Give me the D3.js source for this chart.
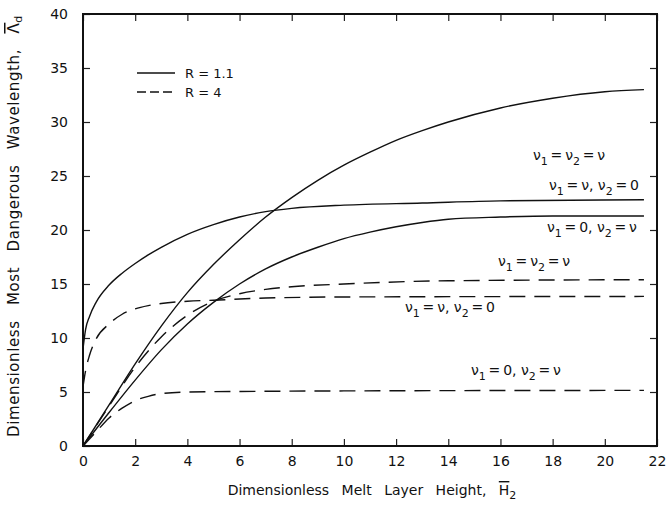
<!DOCTYPE html>
<html>
<head>
<meta charset="utf-8">
<script src="https://cdn.jsdelivr.net/npm/d3@7"></script>
<style>
  body { margin: 0; background: #fff; }
  text { font-family: "DejaVu Sans", "Liberation Sans", sans-serif; fill: #111; }
</style>
</head>
<body>
<div id="chart"></div>
<script>
// x ticks and y ticks
const xTicks = [0, 2, 4, 6, 8, 10, 12, 14, 16, 18, 20, 22];
const yTicks = [0, 5, 10, 15, 20, 25, 30, 35, 40];

// R = 1.1 (solid)
const solidBoth = [[0, 0], [1, 3.8], [2, 7.6], [3, 11.1], [4, 14.2], [5, 16.8], [6, 19.1], [7, 21.2], [8, 23.0],
  [9, 24.6], [10, 26.0], [11, 27.2], [12, 28.3], [13, 29.2], [14, 30.0], [16, 31.3], [18, 32.2], [20, 32.8], [21.5, 33.0]];
const solidNu1 = [[0, 9.0], [0.1, 10.8], [0.25, 12.0], [0.5, 13.3], [1, 14.9], [1.5, 16.0], [2, 16.9], [2.5, 17.7],
  [3, 18.4], [4, 19.6], [5, 20.5], [6, 21.2], [7, 21.7], [8, 22.0], [10, 22.3], [13, 22.5], [16, 22.7], [21.5, 22.8]];
const solidNu2 = [[0, 0], [1, 3.1], [2, 6.1], [3, 8.9], [4, 11.3], [5, 13.3], [6, 15.0], [7, 16.4], [8, 17.5],
  [9, 18.4], [10, 19.2], [11, 19.8], [12, 20.3], [13, 20.7], [14, 21.0], [16, 21.2], [18, 21.3], [21.5, 21.3]];

// R = 4 (dashed)
const dashBoth = [[0, 0], [1, 3.7], [2, 7.3], [3, 10.1], [4, 12.1], [5, 13.4], [6, 14.1], [7, 14.5], [8, 14.75],
  [10, 15.0], [14, 15.3], [21.5, 15.4]];
const dashNu1 = [[0, 5.5], [0.1, 7.0], [0.25, 8.4], [0.5, 9.9], [1, 11.3], [1.5, 12.2], [2, 12.7], [2.5, 13.0],
  [3, 13.2], [4, 13.4], [5, 13.5], [7, 13.7], [10, 13.8], [21.5, 13.85]];
const dashNu2 = [[0, 0], [0.5, 1.3], [1, 2.6], [1.5, 3.5], [2, 4.2], [2.5, 4.6], [3, 4.85], [4, 5.0], [6, 5.05],
  [10, 5.1], [21.5, 5.15]];

const width = 669, height = 522;
const margin = { top: 14, right: 12, bottom: 76, left: 83 };

const svg = d3.select("#chart").append("svg")
  .attr("width", width)
  .attr("height", height);

const x = d3.scaleLinear().domain([0, 22]).range([margin.left, width - margin.right]);
const y = d3.scaleLinear().domain([0, 40]).range([height - margin.bottom, margin.top]);

// inward ticks on all four sides
const tickLen = 7;
svg.append("g")
  .attr("transform", `translate(0,${y(0)})`)
  .call(d3.axisBottom(x).tickValues(xTicks).tickSizeInner(-tickLen).tickSizeOuter(0).tickPadding(10))
  .call(g => g.select(".domain").remove())
  .call(g => g.selectAll("text").attr("font-size", 14));
svg.append("g")
  .attr("transform", `translate(${x(0)},0)`)
  .call(d3.axisLeft(y).tickValues(yTicks).tickSizeInner(-tickLen).tickSizeOuter(0).tickPadding(15))
  .call(g => g.select(".domain").remove())
  .call(g => g.selectAll("text").attr("font-size", 14));
svg.append("g")
  .attr("transform", `translate(0,${y(40)})`)
  .call(d3.axisTop(x).tickValues(xTicks).tickSizeInner(-tickLen).tickSizeOuter(0).tickFormat(""))
  .call(g => g.select(".domain").remove());
svg.append("g")
  .attr("transform", `translate(${x(22)},0)`)
  .call(d3.axisRight(y).tickValues(yTicks).tickSizeInner(-tickLen).tickSizeOuter(0).tickFormat(""))
  .call(g => g.select(".domain").remove());

svg.selectAll(".tick line").attr("stroke", "#222").attr("stroke-width", 1.2);

// frame
svg.append("rect")
  .attr("x", x(0)).attr("y", y(40))
  .attr("width", x(22) - x(0)).attr("height", y(0) - y(40))
  .attr("fill", "none").attr("stroke", "#111").attr("stroke-width", 2);

const line = d3.line().x(d => x(d[0])).y(d => y(d[1])).curve(d3.curveMonotoneX);

const series = [
  { data: solidBoth, dash: null },
  { data: solidNu1, dash: null },
  { data: solidNu2, dash: null },
  { data: dashBoth, dash: "16,9" },
  { data: dashNu1, dash: "16,9" },
  { data: dashNu2, dash: "16,9" },
];

svg.selectAll(".curve")
  .data(series)
  .join("path")
  .attr("class", "curve")
  .attr("d", d => line(d.data))
  .attr("fill", "none")
  .attr("stroke", "#111")
  .attr("stroke-width", 1.4)
  .attr("stroke-dasharray", d => d.dash);

// legend
const legend = svg.append("g");
legend.append("line").attr("x1", 137).attr("x2", 175).attr("y1", 73).attr("y2", 73)
  .attr("stroke", "#111").attr("stroke-width", 1.6);
legend.append("line").attr("x1", 137).attr("x2", 175).attr("y1", 92).attr("y2", 92)
  .attr("stroke", "#111").attr("stroke-width", 1.6).attr("stroke-dasharray", "9,4");
legend.append("text").attr("x", 185).attr("y", 78).attr("font-size", 13).text("R = 1.1");
legend.append("text").attr("x", 185).attr("y", 97).attr("font-size", 13).text("R = 4");

// curve labels: [text, isSub, resetBaseline]
const th = "\u2009";
function nuLabel(xp, yp, parts) {
  const t = svg.append("text").attr("x", xp).attr("y", yp).attr("font-size", 14);
  parts.forEach(p => {
    const s = t.append("tspan").text(p[0]);
    if (p[1]) s.attr("font-size", 11).attr("dy", 5);
    if (p[2]) s.attr("dy", -5);
  });
}
nuLabel(533, 160, [["ν", 0], ["1", 1], [`${th}=${th}ν`, 0, 1], ["2", 1], [`${th}=${th}ν`, 0, 1]]);
nuLabel(549, 190, [["ν", 0], ["1", 1], [`${th}=${th}ν, ν`, 0, 1], ["2", 1], [`${th}=${th}0`, 0, 1]]);
nuLabel(547, 232, [["ν", 0], ["1", 1], [`${th}=${th}0, ν`, 0, 1], ["2", 1], [`${th}=${th}ν`, 0, 1]]);
nuLabel(498, 266, [["ν", 0], ["1", 1], [`${th}=${th}ν`, 0, 1], ["2", 1], [`${th}=${th}ν`, 0, 1]]);
nuLabel(405, 312, [["ν", 0], ["1", 1], [`${th}=${th}ν,  ν`, 0, 1], ["2", 1], [`${th}=${th}0`, 0, 1]]);
nuLabel(471, 375, [["ν", 0], ["1", 1], [`${th}=${th}0,  ν`, 0, 1], ["2", 1], [`${th}=${th}ν`, 0, 1]]);

// axis titles
const xTitle = svg.append("text")
  .attr("x", 372).attr("y", 495)
  .attr("text-anchor", "middle")
  .attr("font-size", 14)
  .attr("word-spacing", 8);
xTitle.append("tspan").text("Dimensionless Melt Layer Height, ");
xTitle.append("tspan").text("H").style("text-decoration", "overline");
xTitle.append("tspan").attr("font-size", 11).attr("dy", 4).text("2");

const yTitle = svg.append("text")
  .attr("transform", "translate(19,226) rotate(-90)")
  .attr("text-anchor", "middle")
  .attr("font-size", 15)
  .attr("letter-spacing", 0.6)
  .attr("word-spacing", 10);
yTitle.append("tspan").text("Dimensionless Most Dangerous Wavelength, ");
yTitle.append("tspan").text("Λ").style("text-decoration", "overline");
yTitle.append("tspan").attr("font-size", 11).attr("dy", 3).text("d");
</script>
</body>
</html>
